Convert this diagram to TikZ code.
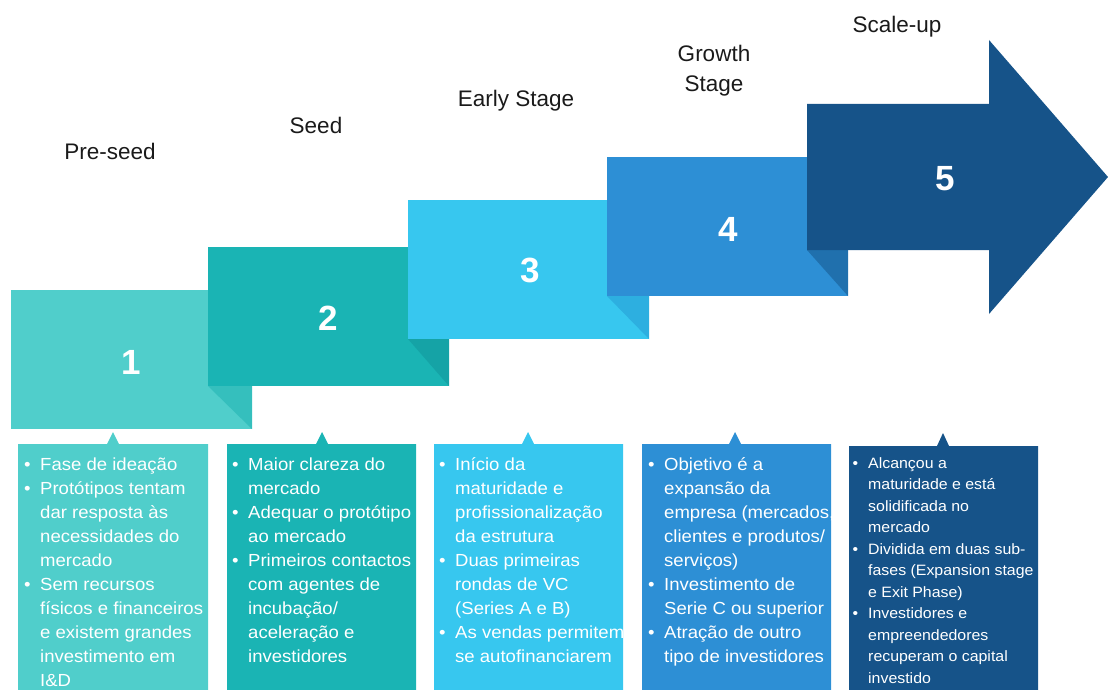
\documentclass[tikz,border=0pt]{standalone}
\usepackage{fontspec}
\setmainfont{Liberation Sans}
\newfontfamily\bodyfont[FakeStretch=1.06]{Liberation Sans}

\definecolor{titlecol}{HTML}{1A1A1A}
\definecolor{cA}{HTML}{50CECB}
\definecolor{cAs}{HTML}{35BFBD}
\definecolor{cB}{HTML}{1AB4B4}
\definecolor{cBs}{HTML}{15A3A6}
\definecolor{cC}{HTML}{37C7EF}
\definecolor{cCs}{HTML}{2DAFE0}
\definecolor{cD}{HTML}{2D8FD5}
\definecolor{cDs}{HTML}{2070AD}
\definecolor{cE}{HTML}{165389}

% bullet marker and continuation indent
\newcommand{\bu}[1]{\makebox[#1][l]{\textbullet}}
\newcommand{\ct}[1]{\hspace*{#1}}
\newcommand{\fl}{\rule{0pt}{1em}}

\begin{document}
\begin{tikzpicture}[x=1pt,y=-1pt,
  stagetitle/.style={font=\fontsize{22.5}{30}\selectfont, text=titlecol, align=center, inner sep=0},
  stepnum/.style={font=\fontsize{35}{35}\selectfont\bfseries, text=white, inner sep=0},
  bullets/.style={font=\bodyfont\fontsize{17.5}{24}\selectfont, text=white, align=left, anchor=north west, inner sep=0},
  smallbullets/.style={bullets, font=\bodyfont\fontsize{15}{21.5}\selectfont},
]
\useasboundingbox (0,0) rectangle (1108,690);

% ---- staircase of stage blocks ----
\fill[cA] (11,290) rectangle (252,429);
\fill[cAs] (208,386) -- (252,386) -- (252,429) -- cycle;
\fill[cB] (208,247) rectangle (449,386);
\fill[cBs] (408,339) -- (449,339) -- (449,386) -- cycle;
\fill[cC] (408,200) rectangle (649,339);
\fill[cCs] (607,296) -- (649,296) -- (649,339) -- cycle;
\fill[cD] (607,157) rectangle (848,296);
\fill[cDs] (807,250) -- (848,250) -- (848,296) -- cycle;
\fill[cE] (807,104) -- (989,104) -- (989,40) -- (1108,177) -- (989,314)
          -- (989,250) -- (807,250) -- cycle;

% ---- step numbers ----
\node[stepnum] (n1) at (131,362) {1};
\node[stepnum] (n2) at (328,318) {2};
\node[stepnum] (n3) at (530,270) {3};
\node[stepnum] (n4) at (728,229) {4};
\node[stepnum] (n5) at (945,179) {5};

% ---- stage titles ----
\node[stagetitle, anchor=base] (t1) at (110,160) {Pre-seed};
\node[stagetitle, anchor=base] (t2) at (316,134) {Seed};
\node[stagetitle, anchor=base] (t3) at (516,107) {Early Stage};
\node[stagetitle] (t4) at (714,71) {Growth\\Stage};
\node[stagetitle, anchor=base] (t5) at (897,33) {Scale-up};

% ---- callout boxes ----
\fill[cA] (18,444) -- (107,444) -- (113,432) -- (119,444) -- (208,444)
          -- (208,695) -- (18,695) -- cycle;
\fill[cB] (227,444) -- (316,444) -- (322,432) -- (328,444) -- (416,444)
          -- (416,695) -- (227,695) -- cycle;
\fill[cC] (434,444) -- (522,444) -- (528,432) -- (534,444) -- (623,444)
          -- (623,695) -- (434,695) -- cycle;
\fill[cD] (642,444) -- (729,444) -- (735,432) -- (741,444) -- (831,444)
          -- (831,695) -- (642,695) -- cycle;
\fill[cE] (849,446) -- (937,446) -- (943,433) -- (949,446) -- (1038,446)
          -- (1038,695) -- (849,695) -- cycle;

% ---- callout texts ----
\node[bullets] (b1) at (24,453) {\fl\bu{16pt}Fase de ideação\\
  \bu{16pt}Protótipos tentam\\
  \ct{16pt}dar resposta às\\
  \ct{16pt}necessidades do\\
  \ct{16pt}mercado\\
  \bu{16pt}Sem recursos\\
  \ct{16pt}físicos e financeiros\\
  \ct{16pt}e existem grandes\\
  \ct{16pt}investimento em\\
  \ct{16pt}I\&D};

\node[bullets] (b2) at (232,453) {\fl\bu{16pt}Maior clareza do\\
  \ct{16pt}mercado\\
  \bu{16pt}Adequar o protótipo\\
  \ct{16pt}ao mercado\\
  \bu{16pt}Primeiros contactos\\
  \ct{16pt}com agentes de\\
  \ct{16pt}incubação/\\
  \ct{16pt}aceleração e\\
  \ct{16pt}investidores};

\node[bullets] (b3) at (439,453) {\fl\bu{16pt}Início da\\
  \ct{16pt}maturidade e\\
  \ct{16pt}profissionalização\\
  \ct{16pt}da estrutura\\
  \bu{16pt}Duas primeiras\\
  \ct{16pt}rondas de VC\\
  \ct{16pt}(Series A e B)\\
  \bu{16pt}As vendas permitem\\
  \ct{16pt}se autofinanciarem};

\node[bullets] (b4) at (648,453) {\fl\bu{16pt}Objetivo é a\\
  \ct{16pt}expansão da\\
  \ct{16pt}empresa (mercados,\\
  \ct{16pt}clientes e produtos/\\
  \ct{16pt}serviços)\\
  \bu{16pt}Investimento de\\
  \ct{16pt}Serie C ou superior\\
  \bu{16pt}Atração de outro\\
  \ct{16pt}tipo de investidores};

\node[smallbullets] (b5) at (852.5,453) {\fl\bu{15.5pt}Alcançou a\\
  \ct{15.5pt}maturidade e está\\
  \ct{15.5pt}solidificada no\\
  \ct{15.5pt}mercado\\
  \bu{15.5pt}Dividida em duas sub-\\
  \ct{15.5pt}fases (Expansion stage\\
  \ct{15.5pt}e Exit Phase)\\
  \bu{15.5pt}Investidores e\\
  \ct{15.5pt}empreendedores\\
  \ct{15.5pt}recuperam o capital\\
  \ct{15.5pt}investido};
\end{tikzpicture}
\end{document}
